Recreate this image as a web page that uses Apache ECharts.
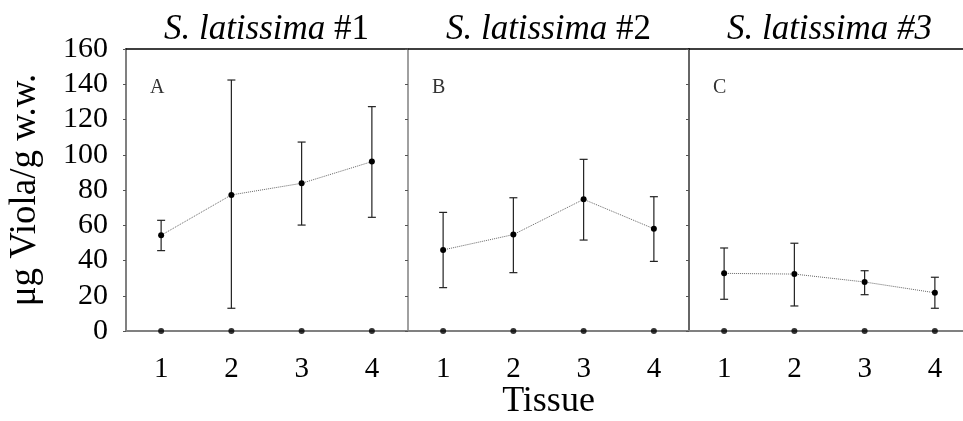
<!DOCTYPE html>
<html>
<head>
<meta charset="utf-8">
<script src="https://cdn.jsdelivr.net/npm/echarts@6/dist/echarts.min.js"></script>
<style>html,body{margin:0;padding:0;background:#fff}#c{width:963px;height:421px}</style>
</head>
<body>
<div id="c"></div>
<script>
const categories = ['1', '2', '3', '4'];
const panelTitles = ['#1', '#2', '#3'];
const panelLetters = ['A', 'B', 'C'];
const yTicks = [0, 20, 40, 60, 80, 100, 120, 140, 160];

const meanA = [54.3, 77.2, 83.8, 96.1];
const lowA  = [45.6, 12.9, 60.1, 64.5];
const highA = [62.8, 142.4, 107.2, 127.3];

const meanB = [46.0, 54.7, 74.7, 58.0];
const lowB  = [24.6, 33.1, 51.6, 39.5];
const highB = [67.3, 75.6, 97.4, 76.2];

const meanC = [32.7, 32.3, 27.8, 21.7];
const lowC  = [18.0, 14.2, 20.6, 12.9];
const highC = [47.1, 49.8, 34.2, 30.5];

const zeroRow = [0, 0, 0, 0];

const FONT = '"Liberation Serif", "DejaVu Serif", serif';
const means = [meanA, meanB, meanC];
const lows = [lowA, lowB, lowC];
const highs = [highA, highB, highC];

const gridLefts = [126, 408, 689];
const grids = gridLefts.map(l => ({
  left: l, width: 281, top: 49, height: 282,
  containLabel: false, outerBoundsMode: 'none'
}));

const xAxes = [];
const yAxes = [];
const series = [];
const titles = [];

for (let i = 0; i < 3; i++) {
  xAxes.push({
    type: 'category', gridIndex: i, data: categories, boundaryGap: true,
    axisLine: { lineStyle: { color: '#808080', width: 2 } },
    axisTick: { show: false },
    axisLabel: { fontFamily: FONT, fontSize: 29, color: '#000', margin: 24 },
    name: i === 1 ? 'Tissue' : '', nameLocation: 'middle', nameGap: 53,
    nameMoveOverlap: false,
    nameTextStyle: { fontFamily: FONT, fontSize: 36, color: '#000' },
    splitLine: { show: false }
  });
  xAxes.push({
    type: 'category', gridIndex: i, data: categories, position: 'top',
    axisLine: { lineStyle: { color: '#000', width: 1.5 } },
    axisTick: { show: false }, axisLabel: { show: false },
    name: '{it|S. latissima}{' + (i === 2 ? 'it' : 'up') + '|\u00a0' + panelTitles[i] + '}',
    nameLocation: 'middle', nameGap: 2, nameMoveOverlap: false,
    nameTextStyle: {
      rich: {
        it: { fontFamily: FONT, fontSize: 35, fontStyle: 'italic', color: '#000' },
        up: { fontFamily: FONT, fontSize: 35, color: '#000' }
      }
    }
  });
  yAxes.push({
    type: 'value', gridIndex: i, min: 0, max: 160, interval: 20,
    axisLine: { show: true, lineStyle: { color: i === 2 ? '#333' : '#808080', width: i === 0 ? 2 : 1.5 } },
    axisTick: { show: true, length: 3, lineStyle: { color: '#555' } },
    axisLabel: {
      show: i === 0, fontFamily: FONT, fontSize: 30, color: '#000', margin: 18,
      formatter: v => (yTicks.indexOf(v) >= 0 ? String(v) : '')
    },
    splitLine: { show: false },
    name: i === 0 ? 'μg Viola/g w.w.' : '', nameLocation: 'middle', nameGap: 82,
    nameTextStyle: { fontFamily: FONT, fontSize: 37, color: '#000' }
  });

  titles.push({
    text: panelLetters[i], left: gridLefts[i] + 24, top: 78, padding: 0,
    textStyle: { fontFamily: FONT, fontSize: 20, fontWeight: 'normal', color: '#333' }
  });

  const low = lows[i], high = highs[i];
  series.push({
    type: 'custom', xAxisIndex: 2 * i, yAxisIndex: i,
    data: categories.map((c, k) => [k, low[k], high[k]]),
    renderItem: (params, api) => {
      const x = api.value(0);
      const p1 = api.coord([x, api.value(1)]);
      const p2 = api.coord([x, api.value(2)]);
      const hw = 4;
      const st = { stroke: '#222', lineWidth: 1.2 };
      return {
        type: 'group',
        children: [
          { type: 'line', shape: { x1: p1[0], y1: p1[1], x2: p2[0], y2: p2[1] }, style: st },
          { type: 'line', shape: { x1: p1[0] - hw, y1: p1[1], x2: p1[0] + hw, y2: p1[1] }, style: st },
          { type: 'line', shape: { x1: p2[0] - hw, y1: p2[1], x2: p2[0] + hw, y2: p2[1] }, style: st }
        ]
      };
    },
    z: 3, silent: true
  });
  series.push({
    type: 'line', xAxisIndex: 2 * i, yAxisIndex: i, data: means[i],
    symbol: 'circle', symbolSize: 6,
    itemStyle: { color: '#000' },
    lineStyle: { color: '#666', width: 1, type: 'dotted' },
    z: 4, silent: true
  });
  series.push({
    type: 'scatter', xAxisIndex: 2 * i, yAxisIndex: i, data: zeroRow,
    symbol: 'circle', symbolSize: 6, itemStyle: { color: '#000' },
    z: 5, silent: true
  });
}

const chart = echarts.init(document.getElementById('c'), null, { renderer: 'canvas' });
chart.setOption({
  backgroundColor: '#fff',
  animation: false,
  title: titles,
  grid: grids,
  xAxis: xAxes,
  yAxis: yAxes,
  series: series
});
</script>
</body>
</html>
